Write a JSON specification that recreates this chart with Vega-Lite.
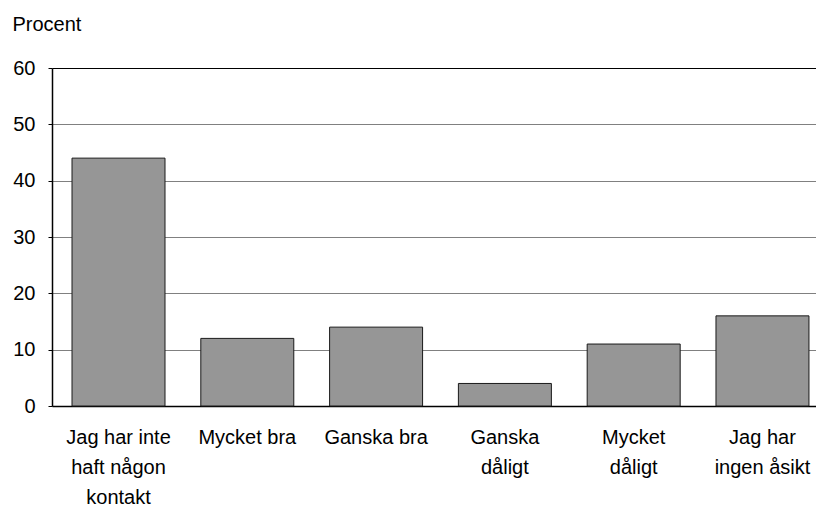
{
  "$schema": "https://vega.github.io/schema/vega-lite/v6.json",
  "autosize": {"type": "none"},
  "padding": {"left": 52, "top": 68, "right": 0, "bottom": 100},
  "width": 764,
  "height": 338,
  "background": "white",
  "config": {
    "view": {"stroke": null},
    "font": "Liberation Sans",
    "axis": {"labelFont": "Liberation Sans", "titleFont": "Liberation Sans", "labelColor": "black", "titleColor": "black"}
  },
  "data": {
    "values": [
      {"kategori": "Jag har inte haft någon kontakt", "procent": 44},
      {"kategori": "Mycket bra", "procent": 12},
      {"kategori": "Ganska bra", "procent": 14},
      {"kategori": "Ganska dåligt", "procent": 4},
      {"kategori": "Mycket dåligt", "procent": 11},
      {"kategori": "Jag har ingen åsikt", "procent": 16}
    ]
  },
  "mark": {"type": "bar", "fill": "#969696", "stroke": "#1a1a1a", "strokeWidth": 1},
  "encoding": {
    "x": {
      "field": "kategori",
      "type": "nominal",
      "sort": null,
      "scale": {"paddingInner": 0.278, "paddingOuter": 0.105, "align": 0.74},
      "axis": {
        "title": null,
        "labelAngle": 0,
        "labelFontSize": 20,
        "labelLineHeight": 30,
        "labelPadding": 21,
        "ticks": false,
        "domainColor": "black",
        "domainWidth": 1.5,
        "labelBaseline": "top",
        "labelExpr": "datum.value == 'Jag har inte haft någon kontakt' ? ['Jag har inte','haft någon','kontakt'] : datum.value == 'Ganska dåligt' ? ['Ganska','dåligt'] : datum.value == 'Mycket dåligt' ? ['Mycket','dåligt'] : datum.value == 'Jag har ingen åsikt' ? ['Jag har','ingen åsikt'] : datum.value"
      }
    },
    "y": {
      "field": "procent",
      "type": "quantitative",
      "scale": {"domain": [0, 60], "nice": false},
      "axis": {
        "values": [0, 10, 20, 30, 40, 50, 60],
        "title": "Procent",
        "titleAngle": 0,
        "titleAlign": "left",
        "titleBaseline": "alphabetic",
        "titleX": -40,
        "titleY": -38,
        "titleFontSize": 20,
        "titleFontWeight": "normal",
        "labelFontSize": 20,
        "labelPadding": 13,
        "tickSize": 4,
        "tickColor": "black",
        "domainColor": "black",
        "domainWidth": 1.5,
        "grid": true,
        "gridColor": {"condition": {"test": "datum.value == 60", "value": "black"}, "value": "#808080"},
        "gridWidth": 1
      }
    }
  }
}
